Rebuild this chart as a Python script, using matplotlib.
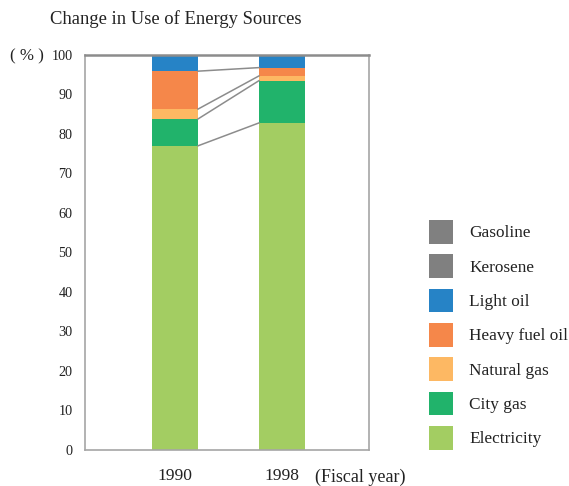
import numpy as np
import matplotlib
matplotlib.use("Agg")
import matplotlib.pyplot as plt
from matplotlib.patches import Patch

plt.rcParams["font.family"] = ["Liberation Serif", "DejaVu Serif"]

years = ["1990", "1998"]
sources = ["Electricity", "City gas", "Natural gas", "Heavy fuel oil",
           "Light oil", "Kerosene", "Gasoline"]
electricity = [77.0, 82.8]
city_gas = [6.8, 10.7]
natural_gas = [2.5, 1.2]
heavy_fuel_oil = [9.6, 2.1]
light_oil = [4.1, 3.2]
kerosene = [0.0, 0.0]
gasoline = [0.0, 0.0]
colors = ["#a3cd62", "#21b36b", "#fdb863", "#f5874a", "#2683c6", "#808080", "#808080"]

series = [electricity, city_gas, natural_gas, heavy_fuel_oil, light_oil, kerosene, gasoline]

fig = plt.figure(figsize=(5.69, 4.86), dpi=100)
ax = fig.add_axes([0.1494, 0.0741, 0.4991, 0.8128])

x = np.arange(len(years))
width = 0.43
bottom = np.zeros(len(years))
for values, color in zip(series, colors):
    ax.bar(x, values, width, bottom=bottom, color=color, linewidth=0)
    bottom = bottom + np.array(values)

# connector lines between stacked boundaries
cum = np.cumsum(np.array(series[:4]), axis=0)
for level in cum:
    ax.plot([x[0] + width / 2, x[1] - width / 2], level, color="#8c8c8c", linewidth=1.1)

ax.set_xlim(-0.841, 1.813)
ax.set_ylim(0, 100)
ax.set_yticks(np.arange(0, 101, 10))
ax.set_xticks(x)
ax.set_xticklabels(years)
ax.tick_params(axis="both", length=0, colors="#222222")
ax.tick_params(axis="y", pad=9, labelsize=10.2)
ax.tick_params(axis="x", pad=13, labelsize=12.6)
for side in ["left", "right", "bottom"]:
    ax.spines[side].set_color("#a6a6a6")
    ax.spines[side].set_linewidth(1.2)
ax.spines["top"].set_color("#8c8c8c")
ax.spines["top"].set_linewidth(1.8)

fig.text(50 / 569, 1 - 19 / 486, "Change in Use of Energy Sources", fontsize=13.4,
         ha="left", va="center", color="#222222")
fig.text(10 / 569, 1 - 56 / 486, "( % )", fontsize=12.2, ha="left", va="center", color="#222222")
fig.text(315 / 569, 1 - 477 / 486, "(Fiscal year)", fontsize=13, ha="left", va="center",
         color="#222222")

handles = [Patch(facecolor=c, edgecolor="none") for c in colors]
fig.legend(handles[::-1], sources[::-1], loc="upper left",
           bbox_to_anchor=(429 / 569, 1 - 220 / 486), frameon=False, fontsize=12.4,
           borderpad=0, borderaxespad=0, handlelength=1.39, handleheight=1.75,
           labelspacing=0.61, handletextpad=0.93, labelcolor="#222222")

fig.savefig("out.png", dpi=100)
